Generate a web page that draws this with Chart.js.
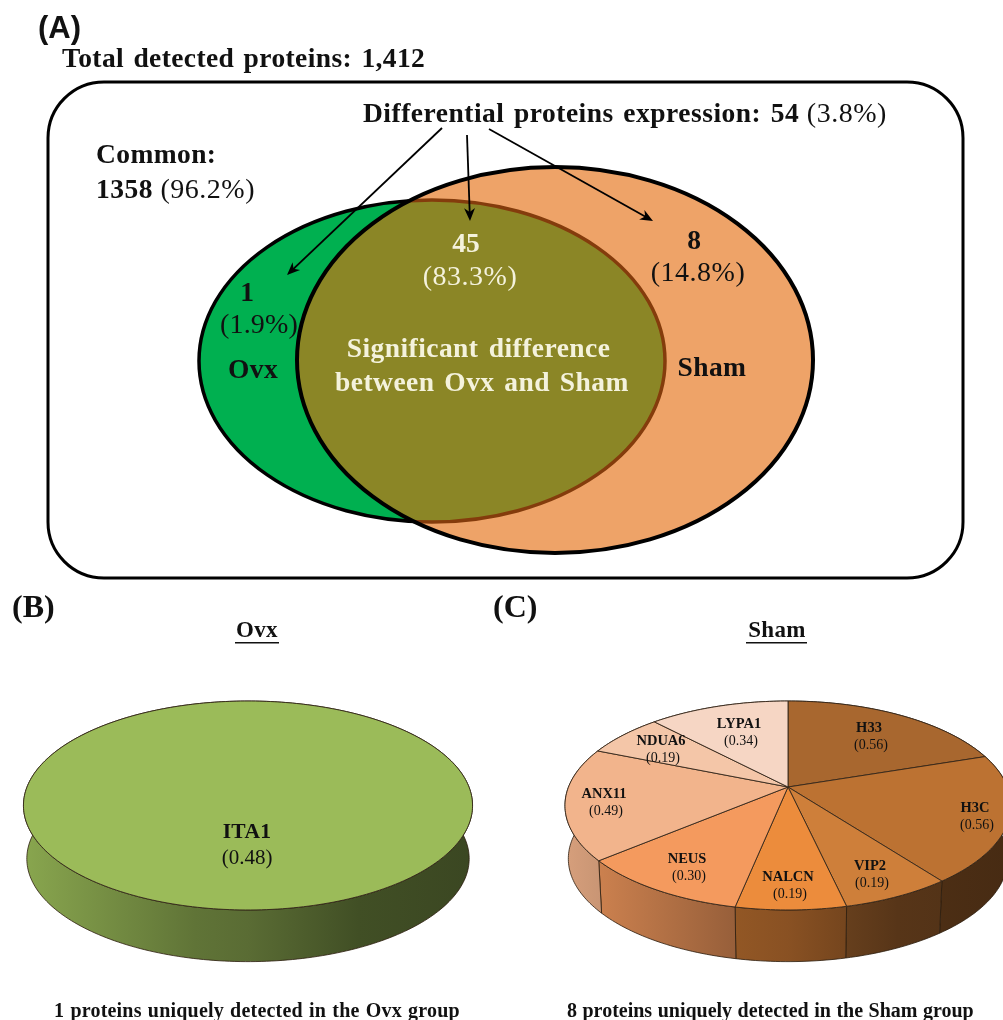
<!DOCTYPE html>
<html>
<head>
<meta charset="utf-8">
<title>Differential proteins Ovx vs Sham</title>
<script src="https://cdn.jsdelivr.net/npm/chart.js@4"></script>
<style>
  html, body { margin: 0; padding: 0; background: #fff; overflow: hidden; }
  #page { position: relative; width: 1003px; height: 1020px; overflow: hidden; }
  canvas { position: absolute; filter: blur(0.35px); }
</style>
</head>
<body>
<div id="page">
  <canvas id="chartA" width="1003" height="590" style="left:0;top:0"></canvas>
  <canvas id="chartB" width="480" height="430" style="left:0;top:590px"></canvas>
  <canvas id="chartC" width="523" height="430" style="left:480px;top:590px"></canvas>
</div>
<script>
// ---- Datos del grafico ----
const ovxLabels = ["ITA1"];
const ovxValues = [0.48];
const shamLabels = ["H33", "H3C", "VIP2", "NALCN", "NEUS", "ANX11", "NDUA6", "LYPA1"];
const shamValues = [0.56, 0.56, 0.19, 0.19, 0.30, 0.49, 0.19, 0.34];

// Venn: ellipses, in the units of the hidden axes
const vennGroups = ["Ovx", "Sham"];
const vennX = [432, 555];
const vennY = [361, 360];
const vennRadiusX = [233, 258];
const vennRadiusY = [161, 193];

// ---- Estilos ----
const serif = '"Liberation Serif"';
const ovxColors = ["#9BBB59"];
const shamColors = ["#A8672F", "#BC7232", "#CE7F3A", "#EC8C3C", "#F49A5E", "#F2B48C", "#F4C6A8", "#F6D6C4"];
const shamLabelPos = [[869, 727], [975, 807], [870, 865], [788, 876], [687, 858], [604, 793], [661, 740], [739, 723]];
const shadeStops = [[0, 0.88], [0.38, 0.62], [0.5, 0.58], [0.75, 0.42], [1, 0.38]];

const shade = (hex, f) => {
  const n = parseInt(hex.slice(1), 16);
  return `rgb(${Math.round((n >> 16) * f)},${Math.round(((n >> 8) & 255) * f)},${Math.round((n & 255) * f)})`;
};

// Draws one line of text made of several runs [text, bold, color, size]
const drawRuns = (ctx, x, y, runs, size, opts = {}) => {
  ctx.save();
  ctx.textBaseline = "alphabetic";
  ctx.textAlign = "left";
  ctx.letterSpacing = (opts.spacing || 0) + "px";
  ctx.wordSpacing = (opts.wordSpacing || 0) + "px";
  const family = opts.family || serif;
  const fontOf = (r) => `${r[1] ? "bold " : ""}${r[3] || size}px ${family}`;
  let total = 0;
  runs.forEach((r) => { ctx.font = fontOf(r); total += ctx.measureText(r[0]).width; });
  let cursor = opts.center ? x - total / 2 : x;
  runs.forEach((r) => {
    ctx.font = fontOf(r);
    ctx.fillStyle = r[2] || "#111";
    ctx.fillText(r[0], cursor, y);
    cursor += ctx.measureText(r[0]).width;
  });
  ctx.restore();
};

// ---- Texto comun de cada panel (coordenadas de pagina) ----
const pageText = {
  id: "pageText",
  afterDraw(chart, args, opts) {
    const ctx = chart.ctx;
    ctx.save();
    ctx.translate(-opts.left, -opts.top);
    opts.draw(ctx);
    ctx.restore();
  },
};

// ---- Pie 3D: each arc from the library is projected in perspective ----
const projectRim = (arc, angle, view, lower) => {
  const u = Math.cos(angle);
  const v = Math.sin(angle);
  const den = 1 + view.c * v;
  const k = lower ? view.shrink : 1;
  return [
    arc.x + (view.kx * k * u) / den,
    arc.y + (lower ? view.drop : 0) + (view.ky * k * v) / den,
  ];
};

const rimPoints = (arc, view, lower) => {
  const pts = [];
  const steps = Math.max(2, Math.ceil((arc.endAngle - arc.startAngle) / 0.02));
  for (let i = 0; i <= steps; i++) {
    pts.push(projectRim(arc, arc.startAngle + ((arc.endAngle - arc.startAngle) * i) / steps, view, lower));
  }
  return pts;
};

const pie3d = {
  id: "pie3d",
  beforeDatasetsDraw(chart, args, view) {
    const ctx = chart.ctx;
    const arcs = chart.getDatasetMeta(0).data;
    const colors = chart.data.datasets[0].backgroundColor;
    const full = arcs.length === 1;

    // side wall first, the top face hides whatever is behind
    arcs.forEach((arc, i) => {
      const top = rimPoints(arc, view, false);
      const low = rimPoints(arc, view, true).reverse();
      const g = ctx.createLinearGradient(arc.x - view.kx, 0, arc.x + view.kx, 0);
      shadeStops.forEach((s) => g.addColorStop(s[0], shade(colors[i], s[1])));
      ctx.beginPath();
      top.concat(low).forEach((p, n) => (n ? ctx.lineTo(p[0], p[1]) : ctx.moveTo(p[0], p[1])));
      ctx.closePath();
      ctx.fillStyle = g;
      ctx.fill();
      ctx.lineWidth = 0.8;
      ctx.strokeStyle = "#2b1c0c";
      ctx.stroke();
    });

    // top face
    arcs.forEach((arc, i) => {
      ctx.beginPath();
      const pts = rimPoints(arc, view, false);
      if (!full) ctx.moveTo(arc.x, arc.y);
      pts.forEach((p, n) => (n || !full ? ctx.lineTo(p[0], p[1]) : ctx.moveTo(p[0], p[1])));
      ctx.closePath();
      ctx.fillStyle = colors[i];
      ctx.fill();
      ctx.lineWidth = 0.9;
      ctx.strokeStyle = "#33261a";
      ctx.stroke();
    });
    return false;
  },
};

// ---- Venn: bubble points placed by the scales, drawn as ellipses ----
const vennEllipse = {
  id: "vennEllipse",
  beforeDatasetsDraw(chart) {
    const ctx = chart.ctx;
    const sx = chart.scales.x;
    const sy = chart.scales.y;
    const shape = vennGroups.map((name, i) => {
      const el = chart.getDatasetMeta(i).data[0];
      return {
        x: el.x,
        y: el.y,
        rx: sx.getPixelForValue(vennX[i] + vennRadiusX[i]) - el.x,
        ry: sy.getPixelForValue(vennY[i] + vennRadiusY[i]) - el.y,
      };
    });
    const path = (s) => {
      ctx.beginPath();
      ctx.ellipse(s.x, s.y, s.rx, s.ry, 0, 0, Math.PI * 2);
    };
    const [ovx, sham] = shape;

    // caja exterior
    ctx.beginPath();
    ctx.roundRect(sx.getPixelForValue(48), sy.getPixelForValue(82), 915, 496, 56);
    ctx.lineWidth = 3;
    ctx.strokeStyle = "#000";
    ctx.stroke();

    path(ovx);
    ctx.fillStyle = chart.data.datasets[0].backgroundColor;
    ctx.fill();
    ctx.lineWidth = 3.5;
    ctx.strokeStyle = "#000";
    ctx.stroke();

    path(sham);
    ctx.fillStyle = chart.data.datasets[1].backgroundColor;
    ctx.fill();

    // interseccion
    ctx.save();
    path(sham);
    ctx.clip();
    path(ovx);
    ctx.fillStyle = "#8B8626";
    ctx.fill();
    ctx.lineWidth = 3.5;
    ctx.strokeStyle = "#843C0C";
    ctx.stroke();
    ctx.restore();

    path(sham);
    ctx.lineWidth = 4;
    ctx.strokeStyle = "#000";
    ctx.stroke();

    // flechas
    const arrow = (x1, y1, x2, y2) => {
      const a = Math.atan2(y2 - y1, x2 - x1);
      ctx.beginPath();
      ctx.moveTo(x1, y1);
      ctx.lineTo(x2 - 6 * Math.cos(a), y2 - 6 * Math.sin(a));
      ctx.lineWidth = 1.8;
      ctx.strokeStyle = "#000";
      ctx.stroke();
      ctx.beginPath();
      ctx.moveTo(x2, y2);
      ctx.lineTo(x2 - 14 * Math.cos(a - 0.4), y2 - 14 * Math.sin(a - 0.4));
      ctx.lineTo(x2 - 9 * Math.cos(a), y2 - 9 * Math.sin(a));
      ctx.lineTo(x2 - 14 * Math.cos(a + 0.4), y2 - 14 * Math.sin(a + 0.4));
      ctx.closePath();
      ctx.fillStyle = "#000";
      ctx.fill();
    };
    arrow(442, 128, 287, 275);
    arrow(467, 135, 470, 221);
    arrow(489, 129, 653, 221);
    return false;
  },
};

new Chart(document.querySelector("#chartA"), {
  type: "bubble",
  data: {
    datasets: vennGroups.map((name, i) => ({
      label: name,
      data: [{ x: vennX[i], y: vennY[i], r: 1 }],
      backgroundColor: i === 0 ? "#00B050" : "#EEA368",
    })),
  },
  options: {
    responsive: false,
    animation: false,
    layout: { padding: 0, autoPadding: false },
    scales: {
      x: { type: "linear", min: 0, max: 1003, display: false },
      y: { type: "linear", min: 0, max: 590, reverse: true, display: false },
    },
    plugins: {
      legend: { display: false },
      tooltip: { enabled: false },
      pageText: {
        left: 0,
        top: 0,
        draw(ctx) {
          const w = "#F4F2DC";
          const head = { spacing: 0.4, wordSpacing: 2 };
          drawRuns(ctx, 38, 38, [["(A)", true]], 31, { family: '"Liberation Sans"' });
          drawRuns(ctx, 62, 67, [["Total detected proteins: 1,412", true]], 27.5, head);
          drawRuns(ctx, 363, 122, [["Differential proteins expression: ", true], ["54", true], [" (3.8%)", false, null, 28]], 27.5, { spacing: 0.5, wordSpacing: 2.2 });
          drawRuns(ctx, 96, 163, [["Common:", true]], 27.5, { spacing: 0.4 });
          drawRuns(ctx, 96, 198, [["1358", true], [" (96.2%)", false, null, 28]], 27.5, { spacing: 0.5 });
          drawRuns(ctx, 247, 301, [["1", true]], 27.5, { center: true });
          drawRuns(ctx, 259, 333, [["(1.9%)", false]], 28, { center: true, spacing: 0.2 });
          drawRuns(ctx, 253, 378, [["Ovx", true]], 27.5, { center: true, spacing: 0.4 });
          drawRuns(ctx, 466, 252, [["45", true, w]], 27.5, { center: true });
          drawRuns(ctx, 470, 285, [["(83.3%)", false, w]], 28, { center: true, spacing: 0.5 });
          drawRuns(ctx, 694, 249, [["8", true]], 27.5, { center: true });
          drawRuns(ctx, 698, 281, [["(14.8%)", false]], 28, { center: true, spacing: 0.5 });
          drawRuns(ctx, 478.5, 357, [["Significant difference", true, w]], 27.5, { center: true, spacing: 0.45, wordSpacing: 3 });
          drawRuns(ctx, 482, 391, [["between Ovx and Sham", true, w]], 27.5, { center: true, spacing: 0.45, wordSpacing: 2.5 });
          drawRuns(ctx, 712, 376, [["Sham", true]], 27.5, { center: true, spacing: 0.4 });
        },
      },
    },
  },
  plugins: [vennEllipse, pageText],
});

// Panel B
new Chart(document.querySelector("#chartB"), {
  type: "pie",
  data: {
    labels: ovxLabels,
    datasets: [{ data: ovxValues, backgroundColor: ovxColors, borderWidth: 0 }],
  },
  options: {
    responsive: false,
    animation: false,
    layout: { padding: { bottom: 36, right: 0, left: 16 }, autoPadding: false },
    plugins: {
      legend: { display: false },
      tooltip: { enabled: false },
      pie3d: { kx: 221, ky: 101.2, c: -0.177, drop: 53.5, shrink: 0.985 },
      pageText: {
        left: 0,
        top: 590,
        draw(ctx) {
          drawRuns(ctx, 12, 617, [["(B)", true]], 32, {});
          drawRuns(ctx, 257, 637, [["Ovx", true]], 23, { center: true, spacing: 0.3 });
          ctx.fillStyle = "#111";
          ctx.fillRect(235, 642, 44, 1.5);
          drawRuns(ctx, 247, 838, [[ovxLabels[0], true]], 21.5, { center: true, spacing: 0.3 });
          drawRuns(ctx, 247, 864, [[`(${ovxValues[0].toFixed(2)})`, false]], 21, { center: true });
          drawRuns(ctx, 54, 1017, [["1 proteins uniquely detected in the Ovx group", true]], 20, { spacing: 0.2, wordSpacing: 1 });
        },
      },
    },
  },
  plugins: [pie3d, pageText],
});

// Panel C
new Chart(document.querySelector("#chartC"), {
  type: "pie",
  data: {
    labels: shamLabels,
    datasets: [{ data: shamValues, backgroundColor: shamColors, borderWidth: 0 }],
  },
  options: {
    responsive: false,
    animation: false,
    layout: { padding: { left: 93, bottom: 36 }, autoPadding: false },
    plugins: {
      legend: { display: false },
      tooltip: { enabled: false },
      pie3d: { kx: 219.5, ky: 101.2, c: -0.177, drop: 53.5, shrink: 0.985 },
      pageText: {
        left: 480,
        top: 590,
        draw(ctx) {
          drawRuns(ctx, 493, 617, [["(C)", true]], 32, {});
          drawRuns(ctx, 777, 637, [["Sham", true]], 23, { center: true, spacing: 0.3 });
          ctx.fillStyle = "#111";
          ctx.fillRect(746, 642, 61, 1.5);
          shamLabels.forEach((name, i) => {
            const [x, y] = shamLabelPos[i];
            drawRuns(ctx, x, y + 5, [[name, true]], 14.5, { center: true });
            drawRuns(ctx, x + 2, y + 22, [[`(${shamValues[i].toFixed(2)})`, false]], 14, { center: true });
          });
          drawRuns(ctx, 567, 1017, [["8 proteins uniquely detected in the Sham group", true]], 20, { spacing: 0, wordSpacing: 0.5 });
        },
      },
    },
  },
  plugins: [pie3d, pageText],
});
</script>
</body>
</html>
